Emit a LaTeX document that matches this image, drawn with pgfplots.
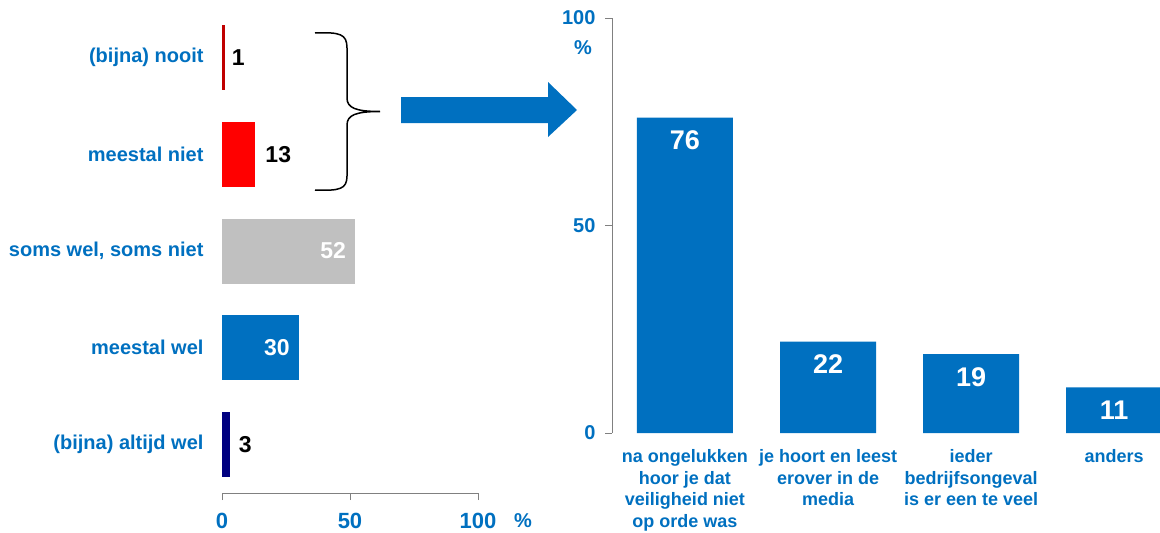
\documentclass[border=0pt]{standalone}
\usepackage{fontspec}
\setmainfont{Liberation Sans}
\usepackage{pgfplots}
\pgfplotsset{compat=1.18}
\definecolor{cblue}{HTML}{0070C0}
\definecolor{cdred}{HTML}{C00000}
\definecolor{cred}{HTML}{FF0000}
\definecolor{cgray}{HTML}{C0C0C0}
\definecolor{cnavy}{HTML}{000080}
\definecolor{axgray}{HTML}{808080}
\newcommand{\lbl}{\fontsize{20bp}{24bp}\selectfont\bfseries}
\newcommand{\xlbl}{\fontsize{22bp}{26bp}\selectfont\bfseries}
\newcommand{\dlbl}{\fontsize{23bp}{27bp}\selectfont\bfseries}
\newcommand{\rdlbl}{\fontsize{27bp}{31bp}\selectfont\bfseries}
\newcommand{\clbl}{\fontsize{18bp}{21.5bp}\selectfont\bfseries}
\begin{document}
\begin{tikzpicture}
\useasboundingbox (0,0) rectangle (1160bp,-533bp);
% ---------------- left chart ----------------
\begin{axis}[
  at={(222bp,-493bp)}, anchor=south west,
  scale only axis, width=256bp, height=484bp,
  xmin=0, xmax=100, ymin=-0.5, ymax=4.5,
  xbar, bar width=65bp, bar shift=0pt,
  clip=false,
  axis x line=bottom, axis y line=left,
  axis line style={-, draw=axgray, line width=1bp},
  y axis line style={draw=none},
  xtick={0,50,100}, ytick={0,1,2,3,4},
  yticklabels={(bijna) altijd wel, meestal wel, {soms wel, soms niet}, meestal niet, (bijna) nooit},
  tick align=outside, major tick length=7bp,
  major x tick style={draw=axgray, line width=1bp},
  major y tick style={draw=none},
  /pgf/number format/assume math mode=true,
  xticklabel style={font=\xlbl, text=cblue, yshift=-10bp},
  yticklabel style={font=\lbl, text=cblue, xshift=-8bp},
]
\addplot[fill=cnavy, draw=none, nodes near coords,
  every node near coord/.append style={font=\dlbl, black, anchor=west, inner sep=0pt, xshift=9bp}] coordinates {(3,0)};
\addplot[fill=cblue, draw=none, nodes near coords,
  every node near coord/.append style={font=\dlbl, white, anchor=east, inner sep=0pt, xshift=-9bp}] coordinates {(30,1)};
\addplot[fill=cgray, draw=none, nodes near coords,
  every node near coord/.append style={font=\dlbl, white, anchor=east, inner sep=0pt, xshift=-9bp}] coordinates {(52,2)};
\addplot[fill=cred, draw=none, nodes near coords,
  every node near coord/.append style={font=\dlbl, black, anchor=west, inner sep=0pt, xshift=10bp}] coordinates {(13,3)};
\addplot[fill=cdred, draw=none, nodes near coords,
  every node near coord/.append style={font=\dlbl, black, anchor=west, inner sep=0pt, xshift=7bp}] coordinates {(1,4)};
\end{axis}
\node[font=\lbl, text=cblue] at (523bp,-521bp) {\%};
% ---------------- brace and arrow ----------------
\draw[line width=1.5bp, black] (315bp,-33bp) .. controls (340bp,-32bp) and (347bp,-34bp) .. (347bp,-48bp)
  -- (347bp,-98bp) .. controls (347bp,-108bp) and (356bp,-111.5bp) .. (380bp,-111.5bp)
  .. controls (356bp,-111.5bp) and (347bp,-115bp) .. (347bp,-125bp)
  -- (347bp,-176bp) .. controls (347bp,-189bp) and (340bp,-191bp) .. (315bp,-190bp);
\fill[cblue] (401bp,-97bp) -- (548bp,-97bp) -- (548bp,-82bp) -- (577bp,-110bp) -- (548bp,-137bp) -- (548bp,-123bp) -- (401bp,-123bp) -- cycle;
% ---------------- right chart ----------------
\begin{axis}[
  at={(612bp,-433bp)}, anchor=south west,
  scale only axis, width=548bp, height=415bp,
  xmin=-0.51, xmax=3.32, ymin=0, ymax=100,
  ybar, bar width=96bp, bar shift=0pt,
  clip=false,
  axis x line=bottom, axis y line=left,
  axis line style={-, draw=axgray, line width=1bp},
  x axis line style={draw=none},
  xtick={0,1,2,3}, ytick={0,50,100},
  xticklabels={{na ongelukken\\hoor je dat\\veiligheid niet\\op orde was},
               {je hoort en leest\\erover in de\\media},
               {ieder\\bedrijfsongeval\\is er een te veel},
               {anders}},
  tick align=outside, major tick length=7bp,
  major y tick style={draw=axgray, line width=1bp},
  major x tick style={draw=none},
  /pgf/number format/assume math mode=true,
  xticklabel style={font=\clbl, text=cblue, align=center, anchor=north, yshift=-6bp},
  yticklabel style={font=\lbl, text=cblue, xshift=-6bp},
]
\addplot[fill=cblue, draw=none, nodes near coords,
  every node near coord/.append style={font=\rdlbl, white, anchor=north, inner sep=0pt, yshift=-13bp}]
  coordinates {(0,76) (1,22) (2,19) (3,11)};
\end{axis}
\node[font=\lbl, text=cblue] at (583bp,-48bp) {\%};
\end{tikzpicture}
\end{document}
